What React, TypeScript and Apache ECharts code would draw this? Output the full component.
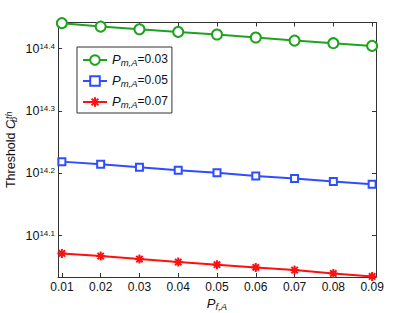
import React, { useEffect, useRef } from 'react';
import * as echarts from 'echarts';

// P_{f,A} values (x axis)
const pfaValues = [0.01, 0.02, 0.03, 0.04, 0.05, 0.06, 0.07, 0.08, 0.09];
// Threshold C_b^th for each P_{m,A}
const seriesNames = ['0.03', '0.05', '0.07'];
const thresholdPm003 = [2.7594e14, 2.7246e14, 2.6984e14, 2.6718e14, 2.6456e14, 2.6165e14, 2.5871e14, 2.5628e14, 2.537e14];
const thresholdPm005 = [1.655e14, 1.6385e14, 1.6205e14, 1.6028e14, 1.588e14, 1.5695e14, 1.5544e14, 1.5373e14, 1.522e14];
const thresholdPm007 = [1.1792e14, 1.1678e14, 1.155e14, 1.1424e14, 1.1311e14, 1.12e14, 1.109e14, 1.0953e14, 1.0832e14];
// tick values
const xTickValues = [0.01, 0.02, 0.03, 0.04, 0.05, 0.06, 0.07, 0.08, 0.09];
const yTickExponents = [14.1, 14.2, 14.3, 14.4];

const FONT = 'Liberation Sans, Arial, Helvetica, sans-serif';
const AXIS_COLOR = '#333';
const TEXT_COLOR = '#111';

const ASTERISK = 'path://M10,0L10,20M0,10L20,10M2.93,2.93L17.07,17.07M2.93,17.07L17.07,2.93';

export default function App() {
  const ref = useRef<HTMLDivElement>(null);
  useEffect(() => {
    if (!ref.current) return;
    const chart = echarts.init(ref.current, undefined, { renderer: 'svg' });
    const yTickValues = yTickExponents.map((e) => Math.pow(10, e));
    const xMin = 0.009;
    const xMax = 0.091;
    const yMin = 1.081e14;
    const yMax = 2.766e14;

    const mkData = (arr: number[]) => pfaValues.map((x, i) => [x, arr[i]]);

    const yFormatter = (v: number) => {
      const e = v > 1e6 ? Math.log10(v) : v;
      return `{b|10}{s|${e.toFixed(1)}}`;
    };

    const option: any = {
      animation: false,
      backgroundColor: '#fff',
      grid: { left: 58, right: 39, top: 22.5, bottom: 36, outerBoundsMode: 'none', containLabel: false },
      legend: {
        orient: 'vertical',
        left: 77,
        top: 47,
        padding: [2, 4, 4, 5],
        itemGap: 3,
        itemWidth: 24,
        itemHeight: 12,
        backgroundColor: '#fff',
        borderColor: '#333',
        borderWidth: 1,
        borderRadius: 0,
        formatter: (name: string) => `{p|P}{sub|m,A}{n|=${name}}`,
        textStyle: {
          fontFamily: FONT,
          color: TEXT_COLOR,
          rich: {
            p: { fontFamily: FONT, fontSize: 13, fontStyle: 'italic', lineHeight: 14, verticalAlign: 'top', color: TEXT_COLOR },
            sub: { fontFamily: FONT, fontSize: 9.5, fontStyle: 'italic', lineHeight: 10, padding: [8, 0, 0, 0], verticalAlign: 'bottom', color: TEXT_COLOR },
            n: { fontFamily: FONT, fontSize: 12, lineHeight: 14, verticalAlign: 'top', color: TEXT_COLOR },
          },
        },
        data: seriesNames,
      },
      xAxis: [
        {
          type: 'value',
          min: xMin,
          max: xMax,
          position: 'bottom',
          name: '{p|P}{sub|f,A}',
          nameLocation: 'middle',
          nameGap: 20,
          nameMoveOverlap: false,
          nameTextStyle: {
            rich: {
              p: { fontFamily: FONT, fontSize: 13, fontStyle: 'italic', lineHeight: 14, verticalAlign: 'top', color: TEXT_COLOR },
              sub: { fontFamily: FONT, fontSize: 9.5, fontStyle: 'italic', lineHeight: 10, padding: [8, 0, 0, 0], verticalAlign: 'bottom', color: TEXT_COLOR },
            },
          },
          axisLine: { show: true, lineStyle: { color: AXIS_COLOR, width: 1 } },
          axisTick: { show: true, inside: true, length: 4, customValues: xTickValues, lineStyle: { color: AXIS_COLOR } },
          axisLabel: {
            show: true,
            customValues: xTickValues,
            margin: 4,
            fontFamily: FONT,
            fontSize: 12,
            color: TEXT_COLOR,
            formatter: (v: number) => v.toFixed(2),
          },
          splitLine: { show: false },
        },
        {
          type: 'value',
          min: xMin,
          max: xMax,
          position: 'top',
          axisLine: { show: true, lineStyle: { color: AXIS_COLOR, width: 1 } },
          axisTick: { show: true, inside: true, length: 4, customValues: xTickValues, lineStyle: { color: AXIS_COLOR } },
          axisLabel: { show: false },
          splitLine: { show: false },
        },
      ],
      yAxis: [
        {
          type: 'log',
          logBase: 10,
          min: yMin,
          max: yMax,
          position: 'left',
          name: '{n|Threshold }{c|C}{sub|b}{sup|th}',
          nameLocation: 'middle',
          nameGap: 40,
          nameMoveOverlap: false,
          nameRotate: 90,
          nameTextStyle: {
            rich: {
              n: { fontFamily: FONT, fontSize: 12.5, lineHeight: 14, verticalAlign: 'middle', color: TEXT_COLOR },
              c: { fontFamily: FONT, fontSize: 12.5, fontStyle: 'italic', lineHeight: 14, verticalAlign: 'middle', color: TEXT_COLOR },
              sub: { fontFamily: FONT, fontSize: 9, fontStyle: 'italic', lineHeight: 10, width: 1, padding: [10, 0, 0, 0], verticalAlign: 'bottom', color: TEXT_COLOR },
              sup: { fontFamily: FONT, fontSize: 9, fontStyle: 'italic', lineHeight: 10, padding: [0, 0, 10, 0], verticalAlign: 'top', color: TEXT_COLOR },
            },
          },
          axisLine: { show: true, lineStyle: { color: AXIS_COLOR, width: 1 } },
          axisTick: { show: true, inside: true, length: 4, customValues: yTickValues, lineStyle: { color: AXIS_COLOR } },
          axisLabel: {
            show: true,
            customValues: yTickValues,
            margin: 3,
            formatter: yFormatter,
            rich: {
              b: { fontFamily: FONT, fontSize: 12.5, lineHeight: 13, padding: [6, 0, 0, 0], verticalAlign: 'bottom', color: TEXT_COLOR },
              s: { fontFamily: FONT, fontSize: 8, lineHeight: 9, verticalAlign: 'top', color: TEXT_COLOR },
            },
          },
          splitLine: { show: false },
        },
        {
          type: 'log',
          logBase: 10,
          min: yMin,
          max: yMax,
          position: 'right',
          axisLine: { show: true, lineStyle: { color: AXIS_COLOR, width: 1 } },
          axisTick: { show: true, inside: true, length: 4, customValues: yTickValues, lineStyle: { color: AXIS_COLOR } },
          axisLabel: { show: false },
          splitLine: { show: false },
        },
      ],
      series: [
        {
          name: seriesNames[0],
          type: 'line',
          data: mkData(thresholdPm003),
          symbol: 'emptyCircle',
          symbolSize: 10,
          lineStyle: { color: '#1fa31f', width: 2 },
          itemStyle: { color: '#1fa31f', borderWidth: 2 },
        },
        {
          name: seriesNames[1],
          type: 'line',
          data: mkData(thresholdPm005),
          symbol: 'emptyRect',
          symbolSize: 7,
          lineStyle: { color: '#2f4dff', width: 2 },
          itemStyle: { color: '#2f4dff', borderWidth: 2 },
        },
        {
          name: seriesNames[2],
          type: 'line',
          data: mkData(thresholdPm007),
          symbol: ASTERISK,
          symbolSize: 9,
          lineStyle: { color: '#ff0f0f', width: 2 },
          itemStyle: { color: '#ff0f0f', borderColor: '#ff0f0f', borderWidth: 2 },
        },
      ],
    };
    chart.setOption(option);
    return () => chart.dispose();
  }, []);
  return <div ref={ref} style={{ position: 'fixed', left: 0, top: 0, width: 415, height: 313 }} />;
}
